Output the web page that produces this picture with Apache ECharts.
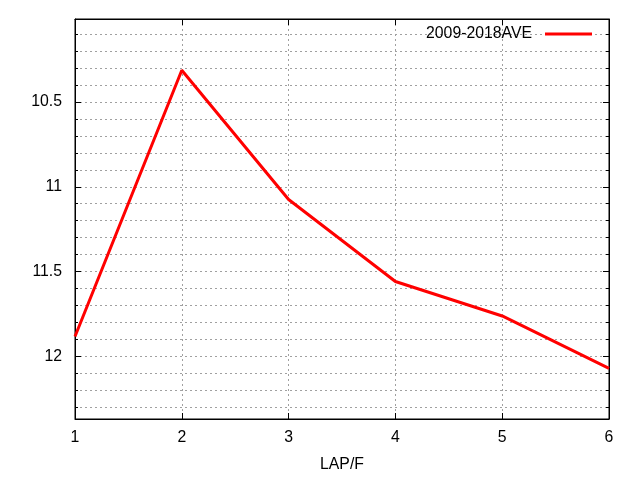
<!DOCTYPE html>
<html><head><meta charset="utf-8">
<script src="https://cdn.jsdelivr.net/npm/echarts@6/dist/echarts.min.js"></script>
<style>html,body{margin:0;padding:0;background:#fff}#c{width:640px;height:480px}</style>
</head><body><div id="c"></div>
<script>
const laps = [1, 2, 3, 4, 5, 6];
const ave = [11.883, 10.312, 11.075, 11.559, 11.762, 12.071];
const seriesName = '2009-2018AVE';
const xName = 'LAP/F';
const yMin = 10.01, yMax = 12.37;

const FONT = 'Liberation Sans, Arial, sans-serif';
const FS = 15.8;
const grid = {left: 75, right: 31, top: 19, bottom: 61};
const gridLine = {show: true, lineStyle: {color: '#a0a0a0', width: 1, type: [2, 3]}};

function yLabel(v) {
  const t = v * 2;
  if (Math.abs(t - Math.round(t)) > 1e-6) return '';
  return String(Math.round(v * 10) / 10);
}

const chart = echarts.init(document.getElementById('c'));
chart.setOption({
  animation: false,
  backgroundColor: '#fff',
  grid: Object.assign({show: true, borderColor: '#000', borderWidth: 1, containLabel: false}, grid),
  legend: {
    data: [{name: seriesName, icon: 'rect'}],
    right: 43, top: 21, align: 'right',
    itemWidth: 47, itemHeight: 3,
    textStyle: {fontFamily: FONT, fontSize: FS, color: '#000', padding: [0, 8, 0, 0]}
  },
  xAxis: [{
    type: 'value', min: 1, max: 6, interval: 1, position: 'bottom',
    name: xName, nameLocation: 'middle', nameGap: 38,
    nameTextStyle: {fontFamily: FONT, fontSize: FS, color: '#000'},
    axisLine: {show: true, lineStyle: {color: '#000', width: 1}},
    axisTick: {show: true, inside: true, length: 6, lineStyle: {color: '#000'}},
    axisLabel: {margin: 11, fontFamily: FONT, fontSize: FS, color: '#000'},
    splitLine: gridLine
  }, {
    type: 'value', min: 1, max: 6, interval: 1, position: 'top',
    axisLine: {show: true, lineStyle: {color: '#000'}},
    axisTick: {show: true, inside: true, length: 6, lineStyle: {color: '#000'}},
    axisLabel: {show: false}, splitLine: {show: false}
  }],
  yAxis: [{
    type: 'value', inverse: true, min: yMin, max: yMax,
    splitNumber: 24, minInterval: 0.1, maxInterval: 0.1, position: 'left',
    axisLine: {show: true, lineStyle: {color: '#000'}},
    axisTick: {show: true, inside: true, length: 3, lineStyle: {color: '#000'}},
    axisLabel: {margin: 13, fontFamily: FONT, fontSize: FS, color: '#000', formatter: yLabel,
      showMinLabel: true, showMaxLabel: true},
    splitLine: gridLine
  }, {
    type: 'value', inverse: true, min: yMin, max: yMax,
    splitNumber: 5, minInterval: 0.5, maxInterval: 0.5, position: 'left',
    axisLine: {show: false},
    axisTick: {show: true, inside: true, length: 6, lineStyle: {color: '#000'}},
    axisLabel: {show: false}, splitLine: {show: false}
  }, {
    type: 'value', inverse: true, min: yMin, max: yMax,
    splitNumber: 24, minInterval: 0.1, maxInterval: 0.1, position: 'right',
    axisLine: {show: true, lineStyle: {color: '#000'}},
    axisTick: {show: true, inside: true, length: 3, lineStyle: {color: '#000'}},
    axisLabel: {show: false}, splitLine: {show: false}
  }, {
    type: 'value', inverse: true, min: yMin, max: yMax,
    splitNumber: 5, minInterval: 0.5, maxInterval: 0.5, position: 'right',
    axisLine: {show: false},
    axisTick: {show: true, inside: true, length: 6, lineStyle: {color: '#000'}},
    axisLabel: {show: false}, splitLine: {show: false}
  }],
  series: [{
    name: seriesName, type: 'line', xAxisIndex: 0, yAxisIndex: 0,
    data: laps.map((x, i) => [x, ave[i]]),
    showSymbol: false, symbol: 'none',
    lineStyle: {color: '#ff0000', width: 3},
    itemStyle: {color: '#ff0000'}
  }]
});
</script></body></html>
